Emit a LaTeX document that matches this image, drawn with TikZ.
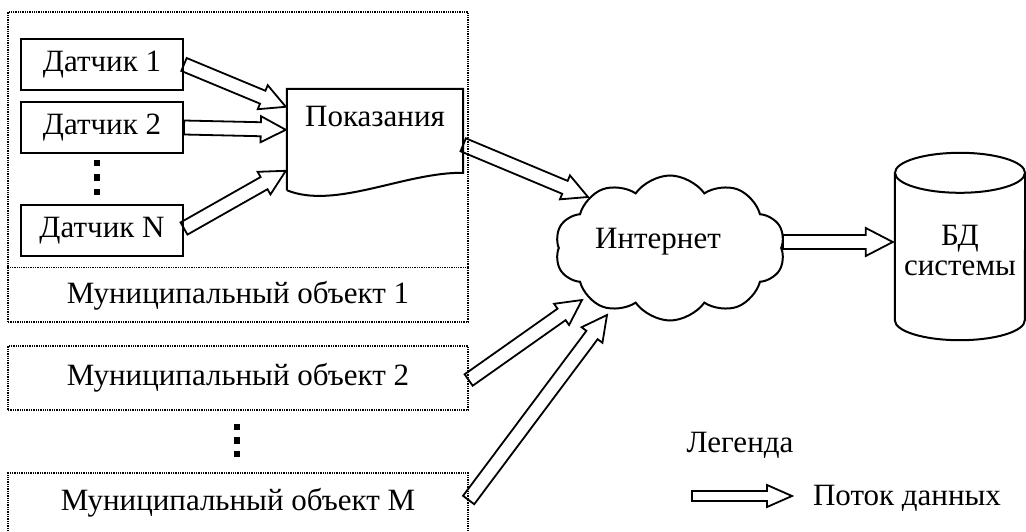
\documentclass[tikz,border=0pt]{standalone}
\usepackage{fontspec}
\setmainfont{Liberation Serif}
\usetikzlibrary{calc,shapes.symbols}
% hollow block arrow: start, end, half shaft, half head, head length
\newcommand{\flowarr}[5]{%
  \coordinate (FAs) at (#1);
  \coordinate (FAe) at (#2);
  \coordinate (FAb) at ($(FAe)!#5!(FAs)$);
  \draw[flow] ($(FAs)!#3!90:(FAe)$) -- ($(FAb)!#3!-90:(FAs)$) -- ($(FAb)!#4!-90:(FAs)$)
    -- (FAe) -- ($(FAb)!#4!90:(FAs)$) -- ($(FAb)!#3!90:(FAs)$) -- ($(FAs)!#3!-90:(FAe)$) -- cycle;
}
\begin{document}
\begin{tikzpicture}[x=1pt,y=-1pt,
  font=\fontsize{31}{34}\selectfont,
  sensor/.style={draw, line width=2pt, minimum width=162pt, minimum height=51pt, inner sep=0pt},
  dotbox/.style={draw, densely dotted, line width=1.3pt, minimum width=460pt, inner sep=0pt},
  flow/.style={draw, line width=1.8pt, line join=miter},
  dotsq/.style={fill=black, minimum size=6.5pt, inner sep=0pt},
  thick line/.style={line width=2pt}]
\useasboundingbox (0,0) rectangle (1026,532);

% municipal object 1 container
\node[dotbox, minimum height=310pt] (obj1) at (238,167) {};
\draw[densely dotted, line width=1.3pt] ($(obj1.south west)+(0,-55)$) -- ($(obj1.south east)+(0,-55)$);
\node (obj1t) at ($(obj1.south)+(0,-27)$) {Муниципальный объект 1};

% sensors
\node[sensor] (d1) at (102,64.5) {Датчик 1};
\node[sensor] (d2) at (102,127.5) {Датчик 2};
\node[sensor] (dN) at (102,230.5) {Датчик N};
\node[dotsq] (s1) at (97,163) {};
\node[dotsq] (s2) at (97,177.5) {};
\node[dotsq] (s3) at (97,192) {};

% readings (document shape)
\node[minimum width=176pt, minimum height=101pt, inner sep=0pt] (pok) at (375,139.5) {};
\node (pokt) at ($(pok.north)+(0,28)$) {Показания};
\draw[thick line] (pok.south west) -- (pok.north west) -- (pok.north east) -- ($(pok.north east)+(0,84)$)
  .. controls (405,172) and (335,210) .. (pok.south west);

% other municipal objects
\node[dotbox, minimum height=64pt] (obj2) at (238,378) {Муниципальный объект 2};
\node[dotsq] (m1) at (237,427) {};
\node[dotsq] (m2) at (237,440.5) {};
\node[dotsq] (m3) at (237,454) {};
\node[dotbox, minimum height=72pt] (objM) at (238,509) {};
\node (objMt) at (238,503) {Муниципальный объект M};

% internet cloud
\node[cloud, draw, line width=2pt, cloud puffs=10, cloud puff arc=110, aspect=1.55,
      minimum width=230pt, minimum height=145pt, inner sep=0pt] (cloud) at (670,248) {};
\node (inet) at (658,242) {Интернет};

% database cylinder
\node[minimum width=130pt, minimum height=147pt, inner sep=0pt] (db) at (960,246.5) {};
\node[align=center] (dbt) at (960,251) {БД\\[-4pt]системы};
\draw[thick line] (db.north) ellipse [x radius=65, y radius=20];
\draw[thick line] (db.north west) -- (db.south west)
  arc[start angle=180, end angle=0, x radius=65, y radius=20] -- (db.north east);

% data flows
\flowarr{d1.east}{$(pok.north west)+(-1,18)$}{7pt}{13pt}{25pt}
\flowarr{d2.east}{$(pok.north west)+(-1,41)$}{7pt}{13pt}{25pt}
\flowarr{$(dN.east)+(0,-2)$}{$(pok.north west)+(-1,82)$}{7pt}{13pt}{25pt}
\flowarr{$(pok.north east)+(0,56)$}{$(cloud.center)+(-82,-51)$}{7pt}{13pt}{25pt}
\flowarr{$(obj2.east)+(0,2)$}{$(cloud.center)+(-88,52)$}{7pt}{13pt}{25pt}
\flowarr{$(objM.east)+(0,-9)$}{$(cloud.center)+(-63,67)$}{7pt}{13pt}{25pt}
\flowarr{$(cloud.center)+(113,-6)$}{$(db.west)+(-2,-4.5)$}{7pt}{14pt}{27pt}

% legend
\node (leg) at (740,445) {Легенда};
\coordinate (legA) at (692,496);
\coordinate (legB) at (792,496);
\flowarr{legA}{legB}{5pt}{11pt}{25pt}
\node (legt) at (907,498) {Поток данных};
\end{tikzpicture}
\end{document}
